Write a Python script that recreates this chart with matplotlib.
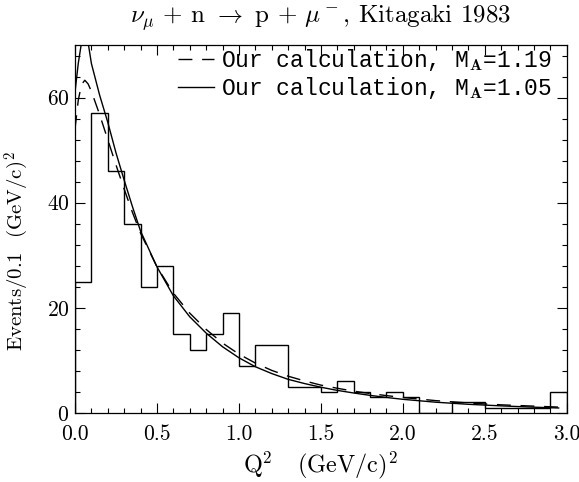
import matplotlib
matplotlib.use("Agg")
import matplotlib.pyplot as plt
import numpy as np
from matplotlib.ticker import MultipleLocator

plt.rcParams['mathtext.fontset'] = 'cm'
plt.rcParams['font.family'] = ['cmr10', 'DejaVu Serif']
plt.rcParams['axes.formatter.use_mathtext'] = True
plt.rcParams['lines.scale_dashes'] = False

# Kitagaki 1983 histogram, bins of 0.1 (GeV/c)^2
bin_edges = np.round(np.arange(0.0, 3.01, 0.1), 2)
counts = [25, 57, 46, 36, 24, 28, 15, 12, 15, 19,
          9, 13, 13, 5, 5, 4, 6, 4, 3, 4,
          3, 0, 0, 2, 2, 1, 1, 1, 1, 4]

# calculation, M_A = 1.19 (dashed)
q2_a = [0.0, 0.02, 0.04, 0.06, 0.08, 0.10, 0.15, 0.20, 0.25, 0.30, 0.35, 0.40,
        0.50, 0.60, 0.70, 0.80, 0.90, 1.00, 1.10, 1.20, 1.30, 1.40, 1.50,
        1.60, 1.70, 1.80, 1.90, 2.00, 2.20, 2.40, 2.60, 2.80, 2.95]
ev_a = [54.0, 59.5, 62.5, 63.3, 62.6, 61.2, 56.8, 52.0, 47.2, 42.6, 38.2, 34.2,
        27.8, 22.8, 19.0, 15.9, 13.3, 11.2, 9.5, 8.1, 7.0, 6.1, 5.3,
        4.7, 4.15, 3.7, 3.3, 2.95, 2.35, 1.9, 1.55, 1.3, 1.12]

# calculation, M_A = 1.05 (solid)
q2_b = [0.0, 0.02, 0.04, 0.06, 0.08, 0.10, 0.15, 0.20, 0.25, 0.30, 0.35, 0.40,
        0.50, 0.60, 0.70, 0.80, 0.90, 1.00, 1.10, 1.20, 1.30, 1.40, 1.50,
        1.60, 1.70, 1.80, 1.90, 2.00, 2.20, 2.40, 2.60, 2.80, 2.95]
ev_b = [61.0, 66.5, 70.5, 72.0, 70.5, 66.5, 60.5, 55.3, 49.5, 44.3, 39.3, 34.6,
        27.8, 22.3, 18.3, 15.2, 12.6, 10.5, 8.8, 7.5, 6.4, 5.6, 4.9,
        4.3, 3.8, 3.35, 2.95, 2.6, 2.05, 1.65, 1.35, 1.1, 0.95]

fig = plt.figure(figsize=(5.79, 4.82), dpi=100)
ax = fig.add_axes([0.1295, 0.1432, 0.8495, 0.7634])

ax.stairs(counts, bin_edges, color='black', lw=1.0)
ax.plot(q2_a, ev_a, color='black', lw=1.0, dashes=(10, 7),
        label=r'Our calculation, M$_\mathbf{A}$=1.19')
ax.plot(q2_b, ev_b, color='black', lw=1.0,
        label=r'Our calculation, M$_\mathbf{A}$=1.05')

ax.set_xlim(0, 3.0)
ax.set_ylim(0, 70)
ax.xaxis.set_major_locator(MultipleLocator(0.5))
ax.xaxis.set_minor_locator(MultipleLocator(0.1))
ax.yaxis.set_major_locator(MultipleLocator(20))
ax.yaxis.set_minor_locator(MultipleLocator(4))
ax.tick_params(which='both', direction='in', top=True, right=True,
               labelsize=15.5, width=0.8)
ax.tick_params(which='major', length=7)
ax.tick_params(which='minor', length=3.5)
ax.tick_params(axis='x', pad=8)
ax.tick_params(axis='y', pad=4)
ax.xaxis.set_major_formatter(plt.FuncFormatter(lambda v, p: f"{v:.1f}"))
for s in ax.spines.values():
    s.set_linewidth(0.9)

ax.set_xlabel(r'Q$^2$   (GeV/c)$^2$', fontsize=17.5, labelpad=4)
ax.set_ylabel(r'Events/0.1  (GeV/c)$^2$', fontsize=15)
ax.yaxis.set_label_coords(-0.09, 0.44)
ax.set_title(r'$\nu_\mu$ + n $\rightarrow$ p + $\mu^-$, Kitagaki 1983',
             fontsize=18, pad=16)

ax.legend(loc='upper left', bbox_to_anchor=(0.209, 0.995), frameon=False,
          prop={'family': 'Liberation Mono', 'size': 16.5},
          handlelength=1.6, handletextpad=0.3, labelspacing=0.1,
          borderaxespad=0.0, borderpad=0.0)

fig.savefig('out.png', dpi=100)
